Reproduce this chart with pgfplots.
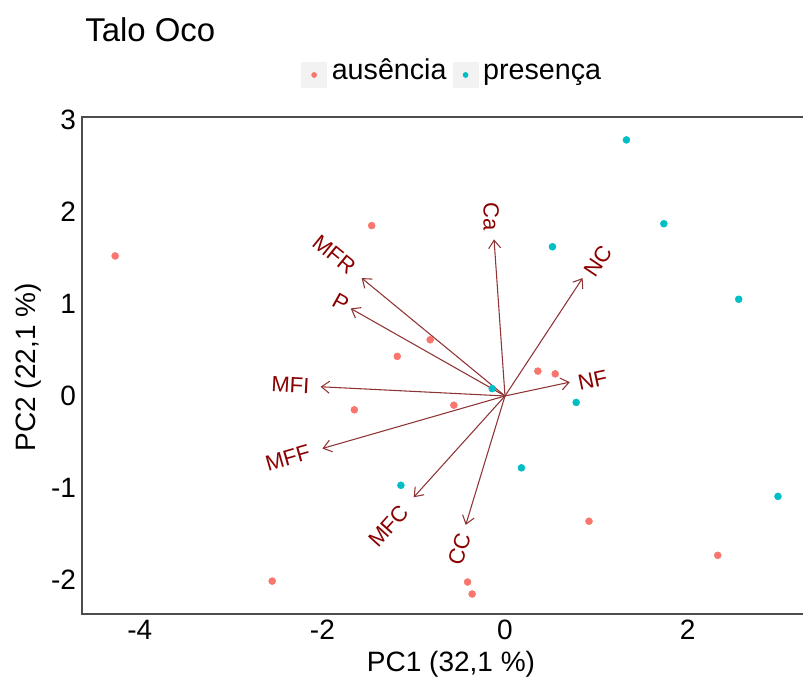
\documentclass[border=0pt]{standalone}
\usepackage{fontspec}
\setmainfont{Liberation Sans}
\usepackage{pgfplots}
\pgfplotsset{compat=1.18}
\usetikzlibrary{arrows.meta}
\definecolor{ausred}{HTML}{F8766D}
\definecolor{prescyan}{HTML}{00BFC4}
\definecolor{arrowcol}{RGB}{142,52,52}
\definecolor{labcol}{HTML}{8B0000}
\definecolor{gray95}{HTML}{F2F2F2}
\definecolor{framecol}{HTML}{4D4D4D}
\begin{document}
\begin{tikzpicture}
\useasboundingbox (-61.5pt,-49.5pt) rectangle (540.75pt,460.5pt);
\begin{axis}[
  at={(0pt,0pt)}, anchor=south west,
  scale only axis, width=540.75pt, height=372.75pt,
  xmin=-4.633, xmax=3.264, ymin=-2.367, ymax=3.029,
  xtick={-4,-2,0,2}, ytick={-2,-1,0,1,2,3},
  major tick length=0pt,
  axis line style={draw=none},
  clip=false,
  /pgf/number format/assume math mode=true,
  tick label style={font=\fontsize{21}{24}\selectfont, text=black},
  xticklabel style={yshift=-1pt},
  yticklabel style={xshift=-1pt},
  legend columns=2,
  legend style={draw=none, fill=none, at={(0.512,1)}, anchor=south, yshift=21.75pt,
    inner sep=0pt, outer sep=0pt,
    font=\fontsize{21.5}{24}\selectfont,
    /tikz/every odd column/.append style={column sep=3.5pt},
    /tikz/every even column/.append style={column sep=4.5pt},
    nodes={inner sep=0pt, anchor=base west}},
  legend image code/.code={
    \fill[fill=gray95, draw=none] (0pt,-6pt) rectangle (19.5pt,13.5pt);
    \draw[mark size=1.9pt] plot coordinates {(9.75pt,3.75pt)};
  },
]
\addplot[only marks, mark=*, mark size=2.6pt, color=ausred] coordinates {
(-4.27,1.52) (-1.46,1.85) (-0.82,0.61) (-1.18,0.43) (-1.65,-0.15)
(-0.56,-0.10) (0.36,0.27) (0.55,0.24) (-2.55,-2.01) (-0.41,-2.02)
(-0.36,-2.15) (0.92,-1.36) (2.33,-1.73)
};
\addlegendentry{ausência}
\addplot[only marks, mark=*, mark size=2.6pt, color=prescyan] coordinates {
(1.33,2.78) (1.74,1.87) (2.56,1.05) (2.99,-1.09) (0.52,1.62)
(-0.14,0.08) (0.78,-0.07) (0.18,-0.78) (-1.14,-0.97)
};
\addlegendentry{presença}
\pgfplotsset{every axis plot/.append style={forget plot}}
\addplot[arrowcol, line width=0.8pt, -{Straight Barb[length=6pt,width=9pt,line width=0.8pt]}] coordinates {(0,0) (-0.12,1.70)};
\addplot[arrowcol, line width=0.8pt, -{Straight Barb[length=6pt,width=9pt,line width=0.8pt]}] coordinates {(0,0) (-1.57,1.28)};
\addplot[arrowcol, line width=0.8pt, -{Straight Barb[length=6pt,width=9pt,line width=0.8pt]}] coordinates {(0,0) (-1.69,0.95)};
\addplot[arrowcol, line width=0.8pt, -{Straight Barb[length=6pt,width=9pt,line width=0.8pt]}] coordinates {(0,0) (0.85,1.28)};
\addplot[arrowcol, line width=0.8pt, -{Straight Barb[length=6pt,width=9pt,line width=0.8pt]}] coordinates {(0,0) (-2.02,0.10)};
\addplot[arrowcol, line width=0.8pt, -{Straight Barb[length=6pt,width=9pt,line width=0.8pt]}] coordinates {(0,0) (0.71,0.15)};
\addplot[arrowcol, line width=0.8pt, -{Straight Barb[length=6pt,width=9pt,line width=0.8pt]}] coordinates {(0,0) (-2.00,-0.57)};
\addplot[arrowcol, line width=0.8pt, -{Straight Barb[length=6pt,width=9pt,line width=0.8pt]}] coordinates {(0,0) (-1.00,-1.10)};
\addplot[arrowcol, line width=0.8pt, -{Straight Barb[length=6pt,width=9pt,line width=0.8pt]}] coordinates {(0,0) (-0.43,-1.40)};
\begin{scope}[every node/.style={text=labcol, font=\fontsize{16.5}{18}\selectfont, inner sep=0pt}]
\node[rotate=-90] at (axis cs:-0.15,1.95) {Ca};
\node[rotate=-39] at (axis cs:-1.87,1.54) {MFR};
\node[rotate=-29] at (axis cs:-1.80,1.02) {P};
\node[rotate=56] at (axis cs:1.02,1.46) {NC};
\node[rotate=-3] at (axis cs:-2.35,0.12) {MFI};
\node[rotate=12] at (axis cs:0.96,0.17) {NF};
\node[rotate=16] at (axis cs:-2.38,-0.67) {MFF};
\node[rotate=48] at (axis cs:-1.27,-1.41) {MFC};
\node[rotate=73] at (axis cs:-0.50,-1.66) {CC};
\end{scope}
\end{axis}
\draw[framecol, line width=0.8pt] (541pt,372.75pt) -- (0pt,372.75pt) -- (0pt,0pt) -- (541pt,0pt);
\node[anchor=base west, font=\fontsize{24.7}{28}\selectfont, inner sep=0pt] at (2.25pt,429pt) {Talo Oco};
\node[anchor=base, font=\fontsize{21}{24}\selectfont, inner sep=0pt] at (276.75pt,-43.5pt) {PC1 (32,1 \%)};
\node[rotate=90, anchor=center, font=\fontsize{21}{24}\selectfont, inner sep=0pt] at (-40.5pt,185pt) {PC2 (22,1 \%)};
\end{tikzpicture}
\end{document}
